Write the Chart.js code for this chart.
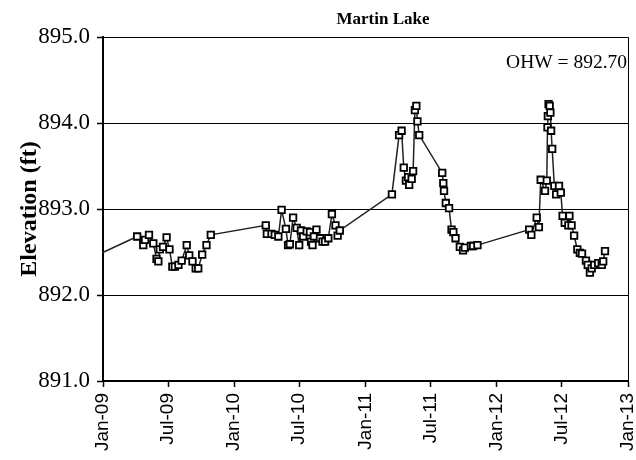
<!DOCTYPE html>
<html>
<head>
<meta charset="utf-8">
<title>Martin Lake</title>
<script src="https://cdn.jsdelivr.net/npm/chart.js@4/dist/chart.umd.min.js"></script>
<style>
  html, body { margin: 0; padding: 0; background: #fff; }
  #wrap { position: relative; width: 636px; height: 460px; }
</style>
</head>
<body>
<div id="wrap"><canvas id="chart" width="636" height="460"></canvas></div>
<script>
// Lake level readings (sample date, elevation in ft)
const sampleDates = [
  '2008-09-12',
  '2009-04-06','2009-04-23','2009-04-28','2009-05-09','2009-05-21','2009-05-30',
  '2009-06-04','2009-06-08','2009-06-17','2009-06-27','2009-07-05','2009-07-13',
  '2009-07-20','2009-07-30','2009-08-08','2009-08-22','2009-08-29','2009-09-07',
  '2009-09-16','2009-09-23','2009-10-04','2009-10-16','2009-10-28',
  '2010-03-30','2010-04-02','2010-04-15','2010-04-24','2010-05-04','2010-05-13',
  '2010-05-25','2010-05-31','2010-06-05','2010-06-14','2010-06-24','2010-07-01',
  '2010-07-06','2010-07-12','2010-07-22','2010-07-31','2010-08-03','2010-08-07',
  '2010-08-11','2010-08-18','2010-08-28','2010-09-04','2010-09-11','2010-09-20',
  '2010-09-30','2010-10-10','2010-10-16','2010-10-22',
  '2011-03-16','2011-04-05','2011-04-12','2011-04-18','2011-04-24','2011-04-30',
  '2011-05-03','2011-05-10','2011-05-14','2011-05-19','2011-05-23','2011-05-26',
  '2011-05-31','2011-08-03','2011-08-06','2011-08-08','2011-08-13','2011-08-22',
  '2011-08-29','2011-09-03','2011-09-09','2011-09-21','2011-09-30','2011-10-05',
  '2011-10-22','2011-10-28','2011-11-09',
  '2012-04-01','2012-04-07','2012-04-22','2012-04-28','2012-05-03','2012-05-15',
  '2012-05-20','2012-05-22','2012-05-23','2012-05-25','2012-05-28','2012-05-30',
  '2012-06-01','2012-06-04','2012-06-10','2012-06-15','2012-06-23','2012-06-28',
  '2012-07-03','2012-07-09','2012-07-19','2012-07-22','2012-07-28','2012-08-04',
  '2012-08-13','2012-08-20','2012-08-26','2012-09-06','2012-09-11','2012-09-17',
  '2012-09-22','2012-09-29','2012-10-10','2012-10-20','2012-10-24','2012-10-29'
];
const elevations = [
  892.28,
  892.68, 892.58, 892.64, 892.70, 892.60, 892.42,
  892.39, 892.53, 892.56, 892.67, 892.53, 892.33,
  892.33, 892.35, 892.40, 892.58, 892.46, 892.39,
  892.31, 892.31, 892.47, 892.58, 892.70,
  892.81, 892.71, 892.71, 892.70, 892.68, 892.99,
  892.77, 892.58, 892.59, 892.90, 892.78, 892.58,
  892.75, 892.68, 892.74, 892.73, 892.62, 892.58,
  892.68, 892.76, 892.66, 892.62, 892.62, 892.66,
  892.94, 892.81, 892.69, 892.75,
  893.17, 893.86, 893.91, 893.48, 893.33, 893.37,
  893.28, 893.35, 893.44, 894.15, 894.20, 894.02,
  893.86, 893.42, 893.30, 893.21, 893.07, 893.01,
  892.76, 892.73, 892.66, 892.56, 892.52, 892.55,
  892.57, 892.57, 892.58,
  892.76, 892.70, 892.90, 892.79, 893.34, 893.21,
  893.33, 893.95, 894.08, 894.22, 894.20, 894.12,
  893.91, 893.70, 893.27, 893.17, 893.27, 893.19,
  892.92, 892.84, 892.81, 892.92, 892.81, 892.69,
  892.53, 892.49, 892.48, 892.40, 892.35, 892.26,
  892.31, 892.35, 892.37, 892.35, 892.39, 892.51
];

// Axis ticks
const xTickDates = ['2009-01-01','2009-07-01','2010-01-01','2010-07-01','2011-01-01',
                    '2011-07-01','2012-01-01','2012-07-01','2013-01-01'];
const yTicks = [891, 892, 893, 894, 895];
const monthNames = ['Jan','Feb','Mar','Apr','May','Jun','Jul','Aug','Sep','Oct','Nov','Dec'];

const chartTitle = 'Martin Lake';
const yAxisTitle = 'Elevation (ft)';
const ohwLevel = 892.70;

const toTime = s => Date.parse(s + 'T00:00:00Z');
const points = sampleDates.map((d, i) => ({ x: toTime(d), y: elevations[i] }));
const xTickValues = xTickDates.map(toTime);

function formatMonth(v) {
  const d = new Date(v);
  return monthNames[d.getUTCMonth()] + '-' + String(d.getUTCFullYear() % 100).padStart(2, '0');
}

// Frame on the top/right of the plot, chart title and OHW note
const decorations = {
  id: 'decorations',
  afterDraw(chart) {
    const { ctx, chartArea: a } = chart;
    ctx.save();
    ctx.strokeStyle = '#000';
    ctx.lineWidth = 1;
    ctx.beginPath();
    ctx.moveTo(a.left, a.top + 0.5);
    ctx.lineTo(a.right + 0.5, a.top + 0.5);
    ctx.lineTo(a.right + 0.5, a.bottom);
    ctx.stroke();

    ctx.fillStyle = '#000';
    ctx.textBaseline = 'middle';
    ctx.font = 'bold 17px "Liberation Serif"';
    ctx.textAlign = 'center';
    ctx.fillText(chartTitle, 383, 20);

    ctx.font = '19.5px "Liberation Serif"';
    ctx.textAlign = 'right';
    ctx.fillText('OHW = ' + ohwLevel.toFixed(2), a.right - 1, 63);
    ctx.restore();
  }
};

new Chart(document.getElementById('chart'), {
  type: 'scatter',
  data: {
    datasets: [{
      data: points,
      showLine: true,
      borderColor: '#222',
      borderWidth: 1.5,
      pointStyle: 'rect',
      pointRadius: 4.6,
      pointHoverRadius: 4.6,
      pointBorderWidth: 1.8,
      pointBorderColor: '#000',
      pointBackgroundColor: '#fff',
      clip: 1
    }]
  },
  options: {
    responsive: false,
    animation: false,
    devicePixelRatio: 1,
    layout: { padding: { top: 37, right: 8, left: 0, bottom: 0 } },
    plugins: {
      legend: { display: false },
      tooltip: { enabled: false },
      title: { display: false }
    },
    scales: {
      x: {
        type: 'linear',
        min: xTickValues[0],
        max: xTickValues[xTickValues.length - 1],
        afterBuildTicks(scale) {
          scale.ticks = xTickValues.map(v => ({ value: v }));
        },
        afterFit(scale) {
          scale.height = 79;
          scale.paddingLeft = 0;
          scale.paddingRight = 0;
        },
        ticks: {
          callback: v => formatMonth(v),
          minRotation: 90,
          maxRotation: 90,
          autoSkip: false,
          padding: 6,
          color: '#000',
          font: { family: '"Liberation Sans", Arial', size: 19 }
        },
        grid: {
          drawOnChartArea: false,
          drawTicks: true,
          tickLength: 6,
          tickColor: '#000',
          tickWidth: 1.5
        },
        border: { display: true, color: '#000', width: 2 }
      },
      y: {
        min: yTicks[0],
        max: yTicks[yTicks.length - 1],
        afterBuildTicks(scale) {
          scale.ticks = yTicks.map(v => ({ value: v }));
        },
        afterFit(scale) {
          scale.width = 103;
          scale.paddingTop = 0;
          scale.paddingBottom = 0;
        },
        ticks: {
          callback: v => Number(v).toFixed(1),
          padding: 7,
          color: '#000',
          font: { family: '"Liberation Serif", "Times New Roman"', size: 23 }
        },
        grid: {
          color: '#000',
          lineWidth: 1,
          drawTicks: true,
          tickLength: 6,
          tickColor: '#000',
          tickWidth: 1.5
        },
        border: { display: true, color: '#000', width: 2 },
        title: {
          display: true,
          text: yAxisTitle,
          color: '#000',
          font: { family: '"Liberation Serif", "Times New Roman"', size: 24, weight: 'bold' },
          padding: { top: 15, bottom: 0 }
        }
      }
    }
  },
  plugins: [decorations]
});
</script>
</body>
</html>
